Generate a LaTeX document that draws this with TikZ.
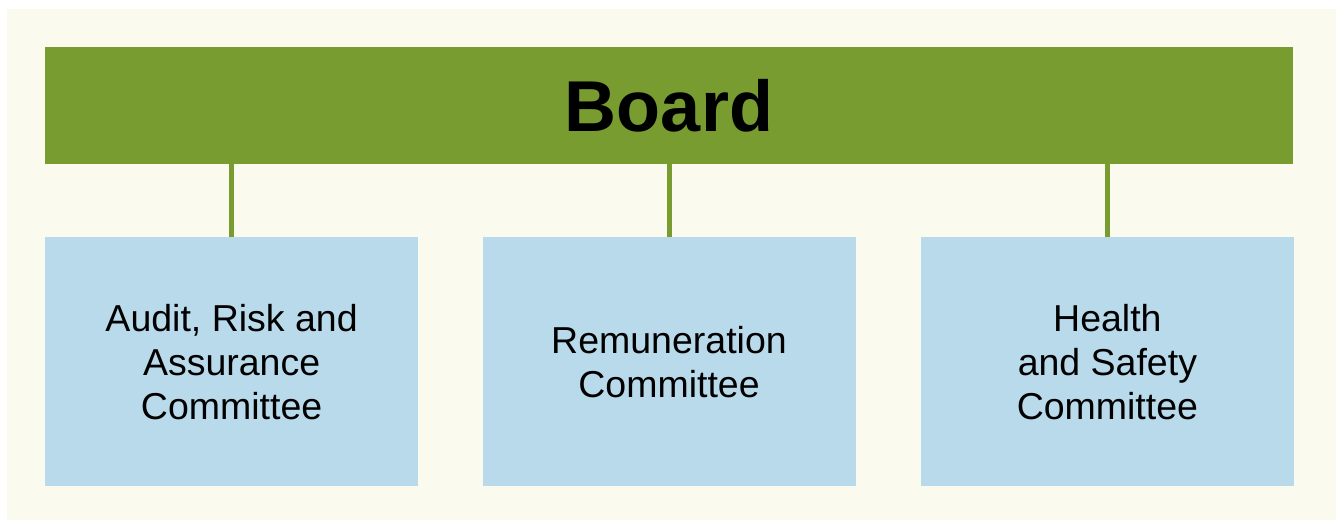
\documentclass[tikz,border=0pt]{standalone}
\usepackage{fontspec}
\setmainfont{Liberation Sans}
\usetikzlibrary{positioning}
\definecolor{boardgreen}{HTML}{789C2F}
\definecolor{committeeblue}{HTML}{B9DAEB}
\definecolor{paper}{HTML}{FAFAEE}
\tikzstyle{board} = [rectangle, minimum width=1248pt, minimum height=117pt, text centered, fill=boardgreen, font=\fontsize{72}{76}\selectfont\bfseries]
\tikzstyle{committee} = [rectangle, minimum width=373pt, minimum height=249pt, align=center, fill=committeeblue, font=\fontsize{37.5}{44}\selectfont]
\tikzstyle{link} = [draw=boardgreen, line width=5pt]

\begin{document}
\begin{tikzpicture}[x=1pt, y=-1pt]
	\useasboundingbox (0,0) rectangle (1336,520);
	\fill [paper] (7,9) rectangle (1336,520);
	\node (board) [board] at (669,105.5) {Board};
	\node (remuneration) [committee, below = 73pt of board] {Remuneration\\Committee};
	\node (audit) [committee, left = 64pt of remuneration] {Audit, Risk and\\Assurance\\Committee};
	\node (health) [committee, right = 65pt of remuneration] {Health\\and Safety\\Committee};
	\draw [link] (board.south -| audit.north) -- (audit.north);
	\draw [link] (board.south) -- (remuneration.north);
	\draw [link] (board.south -| health.north) -- (health.north);
\end{tikzpicture}
\end{document}
